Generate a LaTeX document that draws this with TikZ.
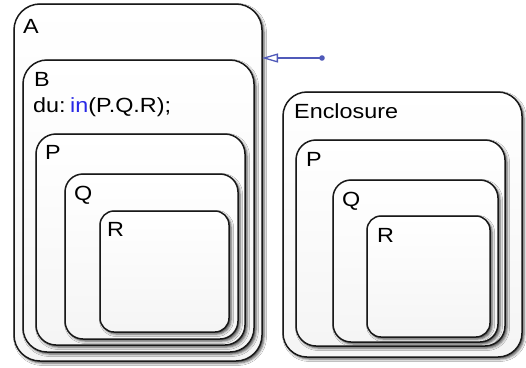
\documentclass[tikz,border=0pt]{standalone}
\usepackage{fontspec}
\setmainfont{Liberation Sans}[FakeStretch=1.14]
\usetikzlibrary{shadows.blur,arrows.meta}
\definecolor{trblue}{RGB}{80,90,185}
\definecolor{kwblue}{RGB}{40,40,230}
\begin{document}
\begin{tikzpicture}[x=1pt,y=-1pt,
  statebox/.style={draw=black!90, line width=1.5pt, top color=white, bottom color=black!4,
    rounded corners=#1, inner sep=0pt, outer sep=0pt, anchor=north west,
    blur shadow={shadow xshift=2pt, shadow yshift=-2pt, shadow blur radius=2.5pt, shadow opacity=70}},
  statebox/.default=20pt,
  lbl/.style={anchor=base west, inner sep=0pt, font=\fontsize{20.5}{24}\selectfont, text=black}]
\useasboundingbox (0,0) rectangle (526,367);
\fill[white] (0,0) rectangle (526,367);
% left group
\node[statebox=26pt, minimum width=248pt, minimum height=357pt] (A) at (14,4) {};
\node[statebox=24pt, minimum width=231pt, minimum height=292pt] (B) at (23,60) {};
\node[statebox=20pt, minimum width=209pt, minimum height=211pt] (P) at (36,134) {};
\node[statebox=18pt, minimum width=173pt, minimum height=165pt] (Q) at (65,174) {};
\node[statebox=14pt, minimum width=129pt, minimum height=121pt] (R) at (100,211) {};
\node[lbl] (Alab) at (23,33) {A};
\node[lbl] (Blab) at (34,86) {B};
\node[lbl] (Bact) at (33,112) {du:\hspace{0.22em}\textcolor{kwblue}{in}(P.Q.R);};
\node[lbl] (Plab) at (45,159) {P};
\node[lbl] (Qlab) at (74,200) {Q};
\node[lbl] (Rlab) at (107,236) {R};
% right group
\node[statebox=24pt, minimum width=239pt, minimum height=265pt] (E) at (283,92) {};
\node[statebox=20pt, minimum width=209pt, minimum height=206pt] (P2) at (296,140) {};
\node[statebox=18pt, minimum width=165pt, minimum height=162pt] (Q2) at (333,180) {};
\node[statebox=14pt, minimum width=123pt, minimum height=121pt] (R2) at (367,216) {};
\node[lbl] (Elab) at (294,118) {Enclosure};
\node[lbl] (P2lab) at (306,166) {P};
\node[lbl] (Q2lab) at (342,206) {Q};
\node[lbl] (R2lab) at (377,242) {R};
% default transition
\coordinate (dot) at (322,58);
\fill[trblue] (dot) circle (2.8pt);
\draw[trblue, line width=1.1pt, -{Triangle[open, length=16pt, width=9pt, line width=1.3pt]}] (dot) -- (A.east |- dot);
\end{tikzpicture}
\end{document}
